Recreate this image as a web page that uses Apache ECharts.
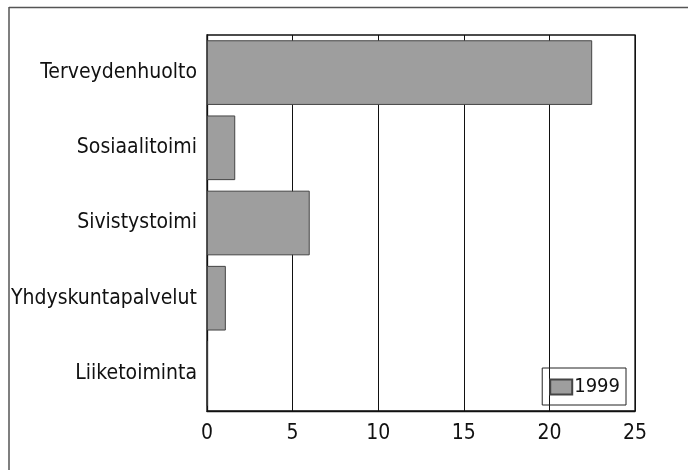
<!DOCTYPE html>
<html>
<head>
<meta charset="utf-8">
<script src="https://cdn.jsdelivr.net/npm/echarts@6/dist/echarts.min.js"></script>
<style>
html,body{margin:0;padding:0;background:#fff;}
#chart{width:688px;height:470px;}
</style>
</head>
<body>
<div id="chart"></div>
<script>
const categories = ['Terveydenhuolto', 'Sosiaalitoimi', 'Sivistystoimi', 'Yhdyskuntapalvelut', 'Liiketoiminta'];
const seriesName = '1999';
const values1999 = [22.5, 1.65, 6.0, 1.1, 0];
const xTicks = [0, 5, 10, 15, 20, 25];

const FONT = '"DejaVu Sans Condensed", "Liberation Sans Narrow", sans-serif';
const chart = echarts.init(document.getElementById('chart'), null, {renderer: 'canvas'});
chart.setOption({
  backgroundColor: '#ffffff',
  animation: false,
  graphic: [
    {type: 'line', shape: {x1: 9, y1: 7.5, x2: 688, y2: 7.5}, style: {stroke: '#555', lineWidth: 1.5}},
    {type: 'line', shape: {x1: 9, y1: 7, x2: 9, y2: 470}, style: {stroke: '#555', lineWidth: 1.5}}
  ],
  grid: {left: 207, right: 53, top: 35, bottom: 59, show: true, borderColor: '#111', borderWidth: 1.3, containLabel: false},
  legend: {
    show: true,
    right: 62, top: 368,
    data: [seriesName],
    orient: 'horizontal',
    borderColor: '#222', borderWidth: 1, borderRadius: 0,
    padding: [9, 6, 8, 7],
    itemWidth: 22, itemHeight: 15, itemGap: 4,
    textStyle: {fontFamily: FONT, fontSize: 20, color: '#111', padding: [0, 0, 0, -3]},
    icon: 'rect'
  },
  xAxis: {
    type: 'value', min: 0, max: 25, interval: 5,
    axisLine: {show: true, lineStyle: {color: '#111', width: 1.3}},
    axisTick: {show: false},
    splitLine: {show: true, lineStyle: {color: '#111', width: 1}},
    axisLabel: {fontFamily: FONT, fontSize: 21, color: '#111', margin: 12,
      formatter: v => xTicks.includes(v) ? String(v) : ''}
  },
  yAxis: {
    type: 'category', data: categories, inverse: true,
    axisLine: {show: true, lineStyle: {color: '#111', width: 1.3}},
    axisTick: {show: false},
    axisLabel: {fontFamily: FONT, fontSize: 21, color: '#111', margin: 10}
  },
  series: [{
    name: seriesName, type: 'bar', data: values1999,
    barCategoryGap: '14%',
    itemStyle: {color: '#9e9e9e', borderColor: '#444', borderWidth: 1}
  }]
});
</script>
</body>
</html>
